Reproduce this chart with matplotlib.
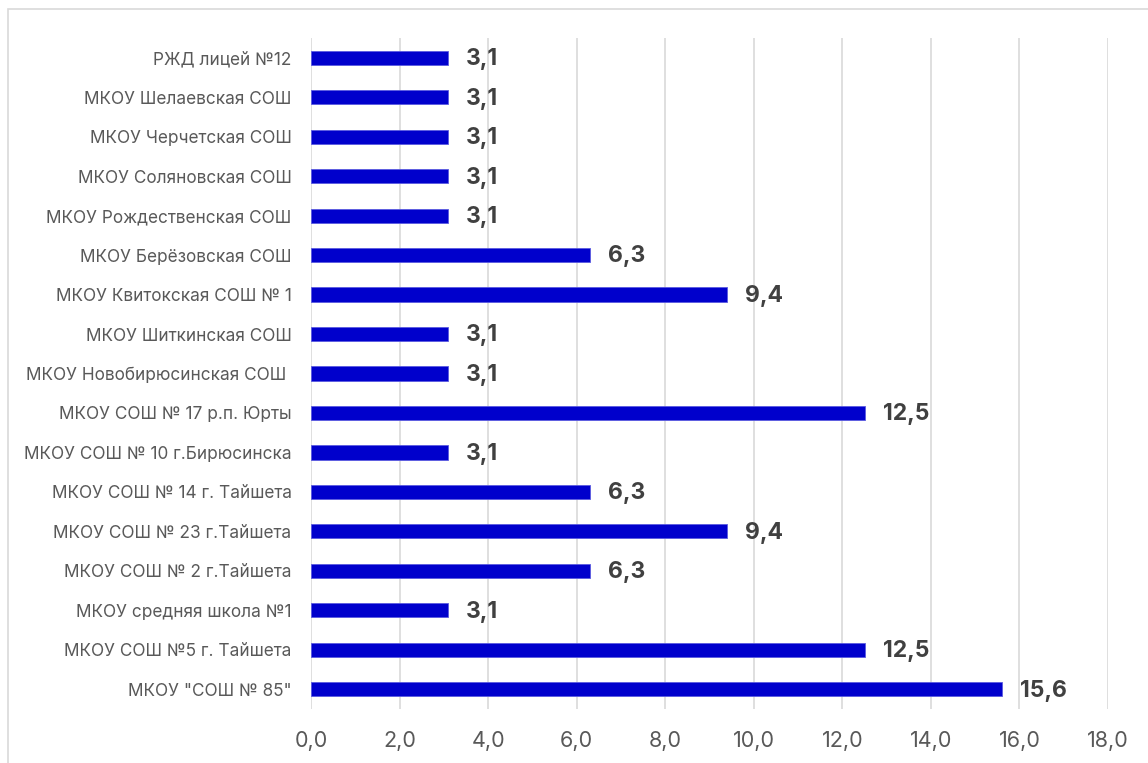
import matplotlib
matplotlib.use("Agg")
import matplotlib.pyplot as plt
from matplotlib.patches import Rectangle

#****************************************************************************
# data (top to bottom)
#****************************************************************************

schoolL = ['РЖД лицей №12',
           'МКОУ Шелаевская СОШ',
           'МКОУ Черчетская СОШ',
           'МКОУ Соляновская СОШ',
           'МКОУ Рождественская СОШ',
           'МКОУ Берёзовская СОШ',
           'МКОУ Квитокская СОШ № 1',
           'МКОУ Шиткинская СОШ',
           'МКОУ Новобирюсинская СОШ ',
           'МКОУ СОШ № 17 р.п. Юрты',
           'МКОУ СОШ № 10 г.Бирюсинска',
           'МКОУ СОШ № 14 г. Тайшета',
           'МКОУ СОШ № 23 г.Тайшета',
           'МКОУ СОШ № 2 г.Тайшета',
           'МКОУ средняя школа №1',
           'МКОУ СОШ №5 г. Тайшета',
           'МКОУ "СОШ № 85"']

valueL = [3.1, 3.1, 3.1, 3.1, 3.1, 6.3, 9.4, 3.1, 3.1, 12.5,
          3.1, 6.3, 9.4, 6.3, 3.1, 12.5, 15.6]

xtickL = [0, 2, 4, 6, 8, 10, 12, 14, 16, 18]

#****************************************************************************

plt.rcParams['font.family'] = ['Inter', 'DejaVu Sans']

fig = plt.figure(figsize=(11.48, 7.63), dpi=100)
ax = fig.add_axes([0.2709, 0.0708, 0.6943, 0.8794])

# outer chart border
fig.patches.append(Rectangle((8/1148, -0.1), 1.2, 1 - 9/763 + 0.1,
                             transform=fig.transFigure, fill=False,
                             edgecolor='#d9d9d9', linewidth=1.2))

ypos = list(range(len(schoolL)))
ax.barh(ypos, valueL, height=0.36, color='#0000CC',
        edgecolor='#5a5ae0', linewidth=0.6, zorder=3)

for y, v in zip(ypos, valueL):
    ax.annotate(('%.1f' % v).replace('.', ','), (v, y),
                xytext=(13, -1), textcoords='offset points',
                ha='left', va='center', fontsize=16.5, fontweight='bold',
                color='#404040')

ax.set_xlim(0, 18)
ax.set_ylim(len(schoolL) - 0.5, -0.5)
ax.set_yticks(ypos)
ax.set_yticklabels(schoolL, fontsize=12.4, color='#595959')
ax.set_xticks(xtickL)
ax.set_xticklabels([('%.1f' % t).replace('.', ',') for t in xtickL],
                   fontsize=15.5, color='#595959')
ax.tick_params(axis='y', length=0, pad=14)
ax.tick_params(axis='x', length=0, pad=16)

ax.grid(axis='x', color='#d9d9d9', linewidth=1.2, zorder=0)
ax.set_axisbelow(True)
for sp in ax.spines.values():
    sp.set_visible(False)

fig.savefig('out.png', dpi=100)
